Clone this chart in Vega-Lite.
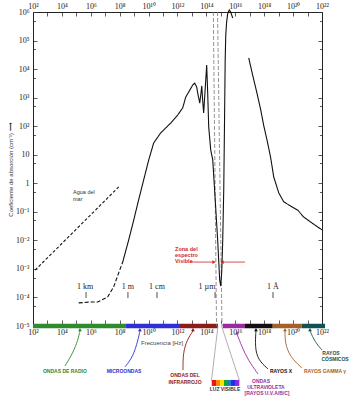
{
  "$schema": "https://vega.github.io/schema/vega-lite/v6.json",
  "width": 289,
  "height": 314,
  "autosize": "none",
  "padding": {"left": 33, "top": 12, "right": 33, "bottom": 74},
  "background": "white",
  "config": {"view": {"stroke": null}, "axis": {"domainColor": "#222", "domainWidth": 1, "tickColor": "#333", "tickWidth": 0.8, "labelColor": "#222", "grid": false}},
  "resolve": {"axis": {"x": "independent", "y": "independent"}},
  "datasets": {
    "bands": [
      {"g": "radio", "f": 100, "f2": 2.754e8},
      {"g": "micro", "f": 2.754e8, "f2": 1.479e12},
      {"g": "ir", "f": 1.479e12, "f2": 6.310e14},
      {"g": "vis", "f": 6.310e14, "f2": 1.349e15},
      {"g": "uv", "f": 1.349e15, "f2": 4.677e16},
      {"g": "xray", "f": 4.677e16, "f2": 3.890e18},
      {"g": "gamma", "f": 3.890e18, "f2": 3.981e20},
      {"g": "cosmic", "f": 3.981e20, "f2": 1.622e22}
    ],
    "rainbow": [{"f": 2.344e14, "f2": 1.905e16, "a": 1.288e-7, "a2": 7.943e-8}],
    "dashed": [
      {"f": 3.020e14, "a": 1000000, "f2": 5.012e14, "a2": 1e-5},
      {"f": 5.888e14, "a": 1000000, "f2": 1.202e15, "a2": 1e-5}
    ],
    "curves": [
      {"s": "sea", "f": 141.3, "a": 9.12e-4},
      {"s": "sea", "f": 8.511e7, "a": 0.7413},
      {"s": "low", "f": 1.445e5, "a": 6.457e-5},
      {"s": "low", "f": 9.772e5, "a": 6.918e-5},
      {"s": "low", "f": 3.020e6, "a": 6.918e-5},
      {"s": "low", "f": 1.479e7, "a": 1.047e-4},
      {"s": "low", "f": 3.802e7, "a": 2.344e-4},
      {"s": "low", "f": 8.511e7, "a": 7.244e-4},
      {"s": "low", "f": 1.622e8, "a": 1.738e-3},
      {"s": "main", "f": 1.622e8, "a": 1.738e-3},
      {"s": "main", "f": 4.169e8, "a": 1.023e-2},
      {"s": "main", "f": 9.333e8, "a": 5.129e-2},
      {"s": "main", "f": 2.042e9, "a": 0.263},
      {"s": "main", "f": 4.571e9, "a": 1.318},
      {"s": "main", "f": 1.023e10, "a": 6.607},
      {"s": "main", "f": 2.239e10, "a": 25.7},
      {"s": "main", "f": 6.761e10, "a": 57.54},
      {"s": "main", "f": 3.388e11, "a": 128.8},
      {"s": "main", "f": 1.023e12, "a": 245.5},
      {"s": "main", "f": 2.291e12, "a": 436.5},
      {"s": "main", "f": 3.715e12, "a": 1047},
      {"s": "main", "f": 6.026e12, "a": 1585},
      {"s": "main", "f": 1.122e13, "a": 2754},
      {"s": "main", "f": 1.549e13, "a": 3236},
      {"s": "main", "f": 2.138e13, "a": 2344},
      {"s": "main", "f": 2.512e13, "a": 1445},
      {"s": "main", "f": 3.467e13, "a": 645.7},
      {"s": "main", "f": 4.074e13, "a": 1230},
      {"s": "main", "f": 4.786e13, "a": 2570},
      {"s": "main", "f": 5.495e13, "a": 831.8},
      {"s": "main", "f": 6.457e13, "a": 288.4},
      {"s": "main", "f": 1.047e14, "a": 13800},
      {"s": "main", "f": 1.230e14, "a": 1445},
      {"s": "main", "f": 1.445e14, "a": 93.33},
      {"s": "main", "f": 1.995e14, "a": 14.79},
      {"s": "main", "f": 2.754e14, "a": 6.607},
      {"s": "main", "f": 4.365e14, "a": 0.1479},
      {"s": "main", "f": 6.026e14, "a": 0.01023},
      {"s": "main", "f": 8.318e14, "a": 4.074e-4},
      {"s": "main", "f": 9.772e14, "a": 2.512e-4},
      {"s": "main", "f": 1.148e15, "a": 7.762e-4},
      {"s": "main", "f": 1.349e15, "a": 0.01023},
      {"s": "main", "f": 1.585e15, "a": 0.5888},
      {"s": "main", "f": 1.738e15, "a": 33.11},
      {"s": "main", "f": 1.862e15, "a": 831.8},
      {"s": "main", "f": 1.995e15, "a": 20890},
      {"s": "main", "f": 2.188e15, "a": 154900},
      {"s": "main", "f": 2.512e15, "a": 446700},
      {"s": "main", "f": 2.951e15, "a": 851100},
      {"s": "main", "f": 3.802e15, "a": 1175000},
      {"s": "main", "f": 4.786e15, "a": 1000000},
      {"s": "main", "f": 6.607e15, "a": 616600},
      {"s": "xray", "f": 8.511e16, "a": 24550},
      {"s": "xray", "f": 1.585e17, "a": 6166},
      {"s": "xray", "f": 3.020e17, "a": 1585},
      {"s": "xray", "f": 5.754e17, "a": 371.5},
      {"s": "xray", "f": 9.120e17, "a": 109.6},
      {"s": "xray", "f": 1.738e18, "a": 25.7},
      {"s": "xray", "f": 2.818e18, "a": 7.762},
      {"s": "xray", "f": 4.571e18, "a": 1.66},
      {"s": "xray", "f": 1.023e19, "a": 0.4571},
      {"s": "xray", "f": 2.239e19, "a": 0.2239},
      {"s": "xray", "f": 6.918e19, "a": 0.1585},
      {"s": "xray", "f": 2.089e20, "a": 0.1148},
      {"s": "xray", "f": 5.370e20, "a": 0.06607},
      {"s": "xray", "f": 1.660e21, "a": 0.04365},
      {"s": "xray", "f": 5.012e21, "a": 0.02951},
      {"s": "xray", "f": 1e22, "a": 0.0234}
    ],
    "segs": [
      {"g": "note", "f": 7.244e12, "f2": 3.388e14, "a": 1.738e-3, "a2": 1.738e-3},
      {"g": "note", "f": 4.677e16, "f2": 1.202e15, "a": 1.738e-3, "a2": 1.738e-3},
      {"g": "gray", "f": 6.310e14, "f2": 2.239e14, "a": 1e-5, "a2": 1.202e-7},
      {"g": "gray", "f": 1.122e15, "f2": 1.950e16, "a": 1e-5, "a2": 1.202e-7},
      {"g": "black", "f": 4.677e5, "f2": 4.677e5, "a": 1.549e-4, "a2": 9.55e-5},
      {"g": "black", "f": 3.715e8, "f2": 3.715e8, "a": 1.549e-4, "a2": 9.55e-5},
      {"g": "black", "f": 3.802e10, "f2": 3.802e10, "a": 1.549e-4, "a2": 9.55e-5},
      {"g": "black", "f": 3.981e14, "f2": 3.981e14, "a": 1.549e-4, "a2": 9.55e-5},
      {"g": "black", "f": 4.074e18, "f2": 4.074e18, "a": 1.549e-4, "a2": 9.55e-5}
    ],
    "arrows": [
      {"g": "radio", "i": 0, "f": 1.778e5, "a": 6.761e-6},
      {"g": "radio", "i": 1, "f": 1.288e5, "a": 3.236e-6},
      {"g": "radio", "i": 2, "f": 5.888e4, "a": 1.148e-6},
      {"g": "radio", "i": 3, "f": 1.622e4, "a": 3.981e-7},
      {"g": "micro", "i": 0, "f": 2.512e9, "a": 6.761e-6},
      {"g": "micro", "i": 1, "f": 1.862e9, "a": 3.236e-6},
      {"g": "micro", "i": 2, "f": 8.318e8, "a": 8.318e-7},
      {"g": "micro", "i": 3, "f": 2.344e8, "a": 3.715e-7},
      {"g": "ir", "i": 0, "f": 1.175e13, "a": 6.761e-6},
      {"g": "ir", "i": 1, "f": 4.571e12, "a": 3.236e-6},
      {"g": "ir", "i": 2, "f": 2.399e12, "a": 1.148e-6},
      {"g": "ir", "i": 3, "f": 2.399e12, "a": 2.884e-7},
      {"g": "uv", "i": 0, "f": 1.318e16, "a": 5.248e-6},
      {"g": "uv", "i": 1, "f": 2.884e16, "a": 1.862e-6},
      {"g": "uv", "i": 2, "f": 7.586e16, "a": 6.457e-7},
      {"g": "uv", "i": 3, "f": 3.715e17, "a": 2.089e-7},
      {"g": "xray", "i": 0, "f": 2.692e17, "a": 6.761e-6},
      {"g": "xray", "i": 1, "f": 2.291e17, "a": 1.862e-6},
      {"g": "xray", "i": 2, "f": 3.715e17, "a": 6.457e-7},
      {"g": "xray", "i": 3, "f": 1.820e18, "a": 3.162e-7},
      {"g": "gamma", "i": 0, "f": 2.754e19, "a": 6.761e-6},
      {"g": "gamma", "i": 1, "f": 2.754e19, "a": 2.570e-6},
      {"g": "gamma", "i": 2, "f": 6.026e19, "a": 8.318e-7},
      {"g": "gamma", "i": 3, "f": 4.074e20, "a": 3.388e-7},
      {"g": "cosmic", "i": 0, "f": 1.479e21, "a": 6.761e-6},
      {"g": "cosmic", "i": 1, "f": 3.236e21, "a": 2.754e-6},
      {"g": "cosmic", "i": 2, "f": 1e22, "a": 1.445e-6}
    ],
    "heads": [
      {"g": "radio", "dir": "up", "f": 1.778e5, "a": 7.4e-6},
      {"g": "micro", "dir": "up", "f": 2.512e9, "a": 7.4e-6},
      {"g": "ir", "dir": "up", "f": 1.175e13, "a": 7.4e-6},
      {"g": "uv", "dir": "up", "f": 1.318e16, "a": 5.8e-6},
      {"g": "xray", "dir": "up", "f": 2.692e17, "a": 7.4e-6},
      {"g": "gamma", "dir": "up", "f": 2.754e19, "a": 7.4e-6},
      {"g": "cosmic", "dir": "up", "f": 1.479e21, "a": 7.4e-6},
      {"g": "note", "dir": "right", "f": 3.388e14, "a": 1.738e-3},
      {"g": "note", "dir": "left", "f": 1.202e15, "a": 1.738e-3}
    ],
    "bandLabels": [
      {"g": "radio", "t": "ONDAS DE RADIO", "f": 1.622e4, "a": 2.692e-7},
      {"g": "micro", "t": "MICROONDAS", "f": 1.995e8, "a": 2.692e-7},
      {"g": "ir", "t": "ONDAS DEL", "f": 3.311e12, "a": 1.950e-7},
      {"g": "ir", "t": "INFRARROJO", "f": 3.311e12, "a": 1.096e-7},
      {"g": "text", "t": "LUZ VISIBLE", "f": 1.950e15, "a": 6.310e-8},
      {"g": "uv", "t": "ONDAS", "f": 6.026e17, "a": 1.202e-7},
      {"g": "uv", "t": "ULTRAVIOLETA", "f": 1.318e18, "a": 7.413e-8},
      {"g": "uv", "t": "[RAYOS U.V.A/B/C]", "f": 1.549e18, "a": 4.467e-8},
      {"g": "xray", "t": "RAYOS X", "f": 1.445e19, "a": 2.692e-7},
      {"g": "gamma", "t": "RAYOS GAMMA γ", "f": 1.622e22, "a": 2.692e-7},
      {"g": "cosmic", "t": "RAYOS", "f": 4.169e22, "a": 1.148e-6},
      {"g": "cosmic", "t": "CÓSMICOS", "f": 7.943e22, "a": 7.079e-7}
    ],
    "waveLabels": [
      {"t": "1 km", "f": 3.981e5, "a": 2.344e-4},
      {"t": "1 m", "f": 3.715e8, "a": 2.344e-4},
      {"t": "1 cm", "f": 3.802e10, "a": 2.344e-4},
      {"t": "1 µm", "f": 1.096e14, "a": 2.344e-4},
      {"t": "1 Å", "f": 4.074e18, "a": 2.344e-4}
    ],
    "notes": [
      {"g": "text", "t": "Agua del", "f": 5.888e4, "a": 0.5012},
      {"g": "text", "t": "mar", "f": 5.888e4, "a": 0.2818}
    ],
    "redNotes": [
      {"g": "note", "t": "Zona del", "f": 6.761e11, "a": 5.012e-3},
      {"g": "note", "t": "espectro", "f": 6.761e11, "a": 3.090e-3},
      {"g": "note", "t": "Visible", "f": 6.761e11, "a": 1.905e-3}
    ],
    "axisTitle": [{"t": "Frecuencia [Hz]", "f": 8.511e10, "a": 2.570e-6}]
  },
  "layer": [
    {
      "data": {"name": "bands"},
      "mark": {"type": "rule", "strokeWidth": 4.5, "strokeCap": "butt"},
      "encoding": {
        "x": {"field": "f", "type": "quantitative", "scale": {"type": "log", "domain": [100, 1e22]}, "axis": null},
        "x2": {"field": "f2"},
        "y": {"datum": 1e-5, "type": "quantitative", "scale": {"type": "log", "domain": [1e-5, 1000000]}, "axis": null},
        "color": {"field": "g", "type": "nominal", "legend": null, "scale": {"domain": ["radio","micro","ir","vis","uv","xray","gamma","cosmic","note","text","gray","black"], "range": ["#2e8b2e","#2f2fd8","#8b1c1c","#ffffff","#9a2aa0","#111111","#a5612a","#145252","#d01f1f","#333333","#9a9a9a","#222222"]}}
      }
    },
    {
      "data": {"name": "rainbow"},
      "mark": {"type": "rect", "fill": {"gradient": "linear", "stops": [
        {"offset": 0, "color": "#e8141a"}, {"offset": 0.143, "color": "#e8141a"},
        {"offset": 0.143, "color": "#ff8a00"}, {"offset": 0.286, "color": "#ff8a00"},
        {"offset": 0.286, "color": "#ffe000"}, {"offset": 0.429, "color": "#ffe000"},
        {"offset": 0.429, "color": "#18a030"}, {"offset": 0.571, "color": "#18a030"},
        {"offset": 0.571, "color": "#1a7ad0"}, {"offset": 0.714, "color": "#1a7ad0"},
        {"offset": 0.714, "color": "#2a2ae0"}, {"offset": 0.857, "color": "#2a2ae0"},
        {"offset": 0.857, "color": "#8a2ae0"}, {"offset": 1, "color": "#8a2ae0"}]}},
      "encoding": {
        "x": {"field": "f", "type": "quantitative", "scale": {"type": "log", "domain": [100, 1e22]}, "axis": null},
        "x2": {"field": "f2"},
        "y": {"field": "a", "type": "quantitative", "scale": {"type": "log", "domain": [1e-5, 1000000]}, "axis": null},
        "y2": {"field": "a2"}
      }
    },
    {
      "data": {"name": "dashed"},
      "mark": {"type": "rule", "color": "#777", "strokeWidth": 0.8, "strokeDash": [4, 2]},
      "encoding": {
        "x": {"field": "f", "type": "quantitative", "scale": {"type": "log", "domain": [100, 1e22]},
          "axis": {"orient": "top", "title": null, "values": [100,1000,10000,100000,1000000,1e7,1e8,1e9,1e10,1e11,1e12,1e13,1e14,1e15,1e16,1e17,1e18,1e19,1e20,1e21,1e22],
            "labelExpr": "['','','10²','','10⁴','','10⁶','','10⁸','','10¹⁰','','10¹²','','10¹⁴','','10¹⁶','','10¹⁸','','10²⁰','','10²²'][round(log(datum.value)/LN10)]",
            "tickSize": -4, "labelPadding": 6, "labelFont": "Liberation Serif", "labelFontSize": 8, "labelFlush": false, "labelOverlap": false, "labelBound": false}},
        "x2": {"field": "f2"},
        "y": {"field": "a", "type": "quantitative", "scale": {"type": "log", "domain": [1e-5, 1000000]},
          "axis": {"orient": "right", "title": null, "labels": false, "values": [1e-5,5e-5,1e-4,5e-4,0.001,0.005,0.01,0.05,0.1,0.5,1,5,10,50,100,500,1000,5000,10000,50000,100000,500000,1000000],
            "tickSize": {"condition": {"test": "abs(log(datum.value)/LN10-round(log(datum.value)/LN10))<0.01", "value": -4}, "value": -2.5}}},
        "y2": {"field": "a2"}
      }
    },
    {
      "data": {"name": "curves"},
      "mark": {"type": "line", "color": "#111", "strokeWidth": 1.1},
      "encoding": {
        "x": {"field": "f", "type": "quantitative", "scale": {"type": "log", "domain": [100, 1e22]},
          "axis": {"orient": "bottom", "title": null, "domain": false, "values": [100,1000,10000,100000,1000000,1e7,1e8,1e9,1e10,1e11,1e12,1e13,1e14,1e15,1e16,1e17,1e18,1e19,1e20,1e21,1e22],
            "labelExpr": "['','','10²','','10⁴','','10⁶','','10⁸','','10¹⁰','','10¹²','','10¹⁴','','10¹⁶','','10¹⁸','','10²⁰','','10²²'][round(log(datum.value)/LN10)]",
            "tickSize": -6, "labelPadding": 8, "labelFont": "Liberation Serif", "labelFontSize": 8, "labelFlush": false, "labelOverlap": false, "labelBound": false}},
        "y": {"field": "a", "type": "quantitative", "scale": {"type": "log", "domain": [1e-5, 1000000]},
          "axis": {"orient": "left", "title": "Coeficiente de absorción (cm⁻¹) ⟶", "titleFont": "Liberation Sans", "titleFontSize": 6, "titleFontWeight": "normal", "titleColor": "#333", "titlePadding": 2,
            "values": [1e-5,5e-5,1e-4,5e-4,0.001,0.005,0.01,0.05,0.1,0.5,1,5,10,50,100,500,1000,5000,10000,50000,100000,500000,1000000],
            "labelExpr": "abs(log(datum.value)/LN10-round(log(datum.value)/LN10))<0.01 ? ['10⁻⁵','10⁻⁴','10⁻³','10⁻²','10⁻¹','1','10','10²','10³','10⁴','10⁵','10⁶'][round(log(datum.value)/LN10)+5] : ''",
            "tickSize": {"condition": {"test": "abs(log(datum.value)/LN10-round(log(datum.value)/LN10))<0.01", "value": -4}, "value": -2.5},
            "labelPadding": 8, "labelFont": "Liberation Serif", "labelFontSize": 8, "labelFlush": false, "labelOverlap": false, "labelBound": false}},
        "strokeDash": {"field": "s", "type": "nominal", "legend": null, "scale": {"domain": ["sea", "low", "main", "xray"], "range": [[3, 2], [4, 2], [1, 0], [1, 0]]}}
      }
    },
    {
      "data": {"name": "segs"},
      "mark": {"type": "rule", "strokeWidth": 0.8},
      "encoding": {
        "x": {"field": "f", "type": "quantitative", "scale": {"type": "log", "domain": [100, 1e22]}, "axis": null},
        "x2": {"field": "f2"},
        "y": {"field": "a", "type": "quantitative", "scale": {"type": "log", "domain": [1e-5, 1000000]}, "axis": null},
        "y2": {"field": "a2"},
        "color": {"field": "g", "type": "nominal", "legend": null, "scale": {"domain": ["radio","micro","ir","vis","uv","xray","gamma","cosmic","note","text","gray","black"], "range": ["#2e8b2e","#2f2fd8","#8b1c1c","#ffffff","#9a2aa0","#111111","#a5612a","#145252","#d01f1f","#333333","#9a9a9a","#222222"]}}
      }
    },
    {
      "data": {"name": "arrows"},
      "mark": {"type": "line", "strokeWidth": 0.9, "interpolate": "basis"},
      "encoding": {
        "x": {"field": "f", "type": "quantitative", "scale": {"type": "log", "domain": [100, 1e22]}, "axis": null},
        "y": {"field": "a", "type": "quantitative", "scale": {"type": "log", "domain": [1e-5, 1000000]}, "axis": null},
        "order": {"field": "i", "type": "quantitative"},
        "color": {"field": "g", "type": "nominal", "legend": null, "scale": {"domain": ["radio","micro","ir","vis","uv","xray","gamma","cosmic","note","text","gray","black"], "range": ["#2e8b2e","#2f2fd8","#8b1c1c","#ffffff","#9a2aa0","#111111","#a5612a","#145252","#d01f1f","#333333","#9a9a9a","#222222"]}}
      }
    },
    {
      "data": {"name": "heads"},
      "mark": {"type": "point", "filled": true, "size": 14, "opacity": 1},
      "encoding": {
        "x": {"field": "f", "type": "quantitative", "scale": {"type": "log", "domain": [100, 1e22]}, "axis": null},
        "y": {"field": "a", "type": "quantitative", "scale": {"type": "log", "domain": [1e-5, 1000000]}, "axis": null},
        "shape": {"field": "dir", "type": "nominal", "legend": null, "scale": {"domain": ["up", "right", "left"], "range": ["triangle-up", "triangle-right", "triangle-left"]}},
        "color": {"field": "g", "type": "nominal", "legend": null, "scale": {"domain": ["radio","micro","ir","vis","uv","xray","gamma","cosmic","note","text","gray","black"], "range": ["#2e8b2e","#2f2fd8","#8b1c1c","#ffffff","#9a2aa0","#111111","#a5612a","#145252","#d01f1f","#333333","#9a9a9a","#222222"]}}
      }
    },
    {
      "data": {"name": "bandLabels"},
      "mark": {"type": "text", "font": "Liberation Sans", "fontSize": 5, "fontWeight": "bold", "align": "center", "baseline": "middle"},
      "encoding": {
        "x": {"field": "f", "type": "quantitative", "scale": {"type": "log", "domain": [100, 1e22]}, "axis": null},
        "y": {"field": "a", "type": "quantitative", "scale": {"type": "log", "domain": [1e-5, 1000000]}, "axis": null},
        "text": {"field": "t"},
        "color": {"field": "g", "type": "nominal", "legend": null, "scale": {"domain": ["radio","micro","ir","vis","uv","xray","gamma","cosmic","note","text","gray","black"], "range": ["#2e8b2e","#2f2fd8","#8b1c1c","#ffffff","#9a2aa0","#111111","#a5612a","#145252","#d01f1f","#333333","#9a9a9a","#222222"]}}
      }
    },
    {
      "data": {"name": "waveLabels"},
      "mark": {"type": "text", "font": "Liberation Serif", "fontSize": 8, "align": "center", "baseline": "middle", "color": "#222"},
      "encoding": {
        "x": {"field": "f", "type": "quantitative", "scale": {"type": "log", "domain": [100, 1e22]}, "axis": null},
        "y": {"field": "a", "type": "quantitative", "scale": {"type": "log", "domain": [1e-5, 1000000]}, "axis": null},
        "text": {"field": "t"}
      }
    },
    {
      "data": {"name": "notes"},
      "mark": {"type": "text", "font": "Liberation Sans", "fontSize": 5.5, "align": "left", "baseline": "middle", "color": "#333"},
      "encoding": {
        "x": {"field": "f", "type": "quantitative", "scale": {"type": "log", "domain": [100, 1e22]}, "axis": null},
        "y": {"field": "a", "type": "quantitative", "scale": {"type": "log", "domain": [1e-5, 1000000]}, "axis": null},
        "text": {"field": "t"}
      }
    },
    {
      "data": {"name": "redNotes"},
      "mark": {"type": "text", "font": "Liberation Sans", "fontSize": 5.5, "fontWeight": "bold", "align": "left", "baseline": "middle", "color": "#d01f1f"},
      "encoding": {
        "x": {"field": "f", "type": "quantitative", "scale": {"type": "log", "domain": [100, 1e22]}, "axis": null},
        "y": {"field": "a", "type": "quantitative", "scale": {"type": "log", "domain": [1e-5, 1000000]}, "axis": null},
        "text": {"field": "t"}
      }
    },
    {
      "data": {"name": "axisTitle"},
      "mark": {"type": "text", "font": "Liberation Sans", "fontSize": 6, "align": "center", "baseline": "middle", "color": "#444"},
      "encoding": {
        "x": {"field": "f", "type": "quantitative", "scale": {"type": "log", "domain": [100, 1e22]}, "axis": null},
        "y": {"field": "a", "type": "quantitative", "scale": {"type": "log", "domain": [1e-5, 1000000]}, "axis": null},
        "text": {"field": "t"}
      }
    }
  ]
}
